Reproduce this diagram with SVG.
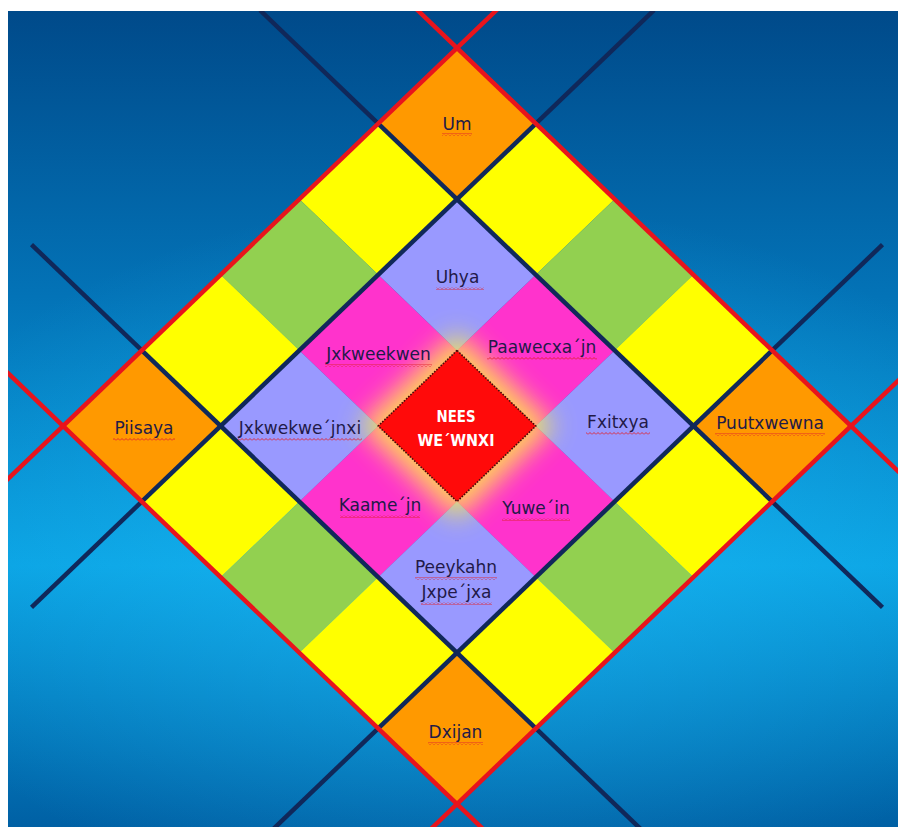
<svg xmlns="http://www.w3.org/2000/svg" width="898" height="827" viewBox="0 0 898 827">
<style>
.or{fill:#ff9900}.ye{fill:#ffff00}.gr{fill:#92d050}.la{fill:#9999ff}.ma{fill:#ff33cc}
.lbl{font-family:"DejaVu Sans","Verdana",sans-serif;font-size:17px;fill:#221a48;text-anchor:middle}
.ctr{font-family:"DejaVu Sans",sans-serif;font-size:16.5px;font-weight:bold;fill:#ffffff;text-anchor:middle}
.navy{stroke:#10285a;stroke-width:4.5;fill:none;stroke-linecap:butt}
.red{stroke:#e8141c;stroke-width:4.5;fill:none}
.sq{fill:url(#squig)}
</style>
<defs>
<linearGradient id="bg" x1="0" y1="11" x2="0" y2="827" gradientUnits="userSpaceOnUse">
<stop offset="0" stop-color="#004a8a"/>
<stop offset="0.35" stop-color="#0373b7"/>
<stop offset="0.68" stop-color="#0aa2e2"/>
<stop offset="1" stop-color="#0060a4"/>
</linearGradient>
<radialGradient id="bgr" cx="470" cy="560" r="600" gradientUnits="userSpaceOnUse" gradientTransform="translate(470 560) scale(1 0.6) translate(-470 -560)">
<stop offset="0" stop-color="#22c4ff" stop-opacity="0.5"/>
<stop offset="1" stop-color="#22c4ff" stop-opacity="0"/>
</radialGradient>
<pattern id="squig" width="4" height="3" patternUnits="userSpaceOnUse">
<polyline points="0,2.5 2,0.5 4,2.5" fill="none" stroke="#e0202c" stroke-width="0.9"/>
</pattern>
<filter id="blur" x="-50%" y="-50%" width="200%" height="200%">
<feGaussianBlur stdDeviation="13"/>
</filter>
<clipPath id="clip"><rect x="8" y="11" width="890" height="816"/></clipPath>
</defs>
<rect x="0" y="0" width="898" height="827" fill="#ffffff"/>
<rect x="8" y="11" width="890" height="816" fill="url(#bg)"/>
<rect x="8" y="11" width="890" height="816" fill="url(#bgr)"/>

<g id="cells-ring">
<polygon id="y1" class="ye" points="378.2,123.6 299.4,199.2 378.2,274.8 457,199.2"/>
<polygon id="g1" class="gr" points="299.4,199.2 220.6,274.8 299.4,350.4 378.2,274.8"/>
<polygon id="y2" class="ye" points="220.6,274.8 141.8,350.4 220.6,426 299.4,350.4"/>
<polygon id="y3" class="ye" points="535.8,123.6 457,199.2 535.8,274.8 614.6,199.2"/>
<polygon id="g2" class="gr" points="614.6,199.2 535.8,274.8 614.6,350.4 693.4,274.8"/>
<polygon id="y4" class="ye" points="693.4,274.8 614.6,350.4 693.4,426 772.2,350.4"/>
<polygon id="y5" class="ye" points="220.6,426 141.8,501.6 220.6,577.2 299.4,501.6"/>
<polygon id="g3" class="gr" points="299.4,501.6 220.6,577.2 299.4,652.8 378.2,577.2"/>
<polygon id="y6" class="ye" points="378.2,577.2 299.4,652.8 378.2,728.4 457,652.8"/>
<polygon id="y7" class="ye" points="693.4,426 614.6,501.6 693.4,577.2 772.2,501.6"/>
<polygon id="g4" class="gr" points="614.6,501.6 535.8,577.2 614.6,652.8 693.4,577.2"/>
<polygon id="y8" class="ye" points="535.8,577.2 457,652.8 535.8,728.4 614.6,652.8"/>
</g>

<g id="um"><polygon class="or" points="457,48 378.2,123.6 457,199.2 535.8,123.6"/></g>
<g id="piisaya"><polygon class="or" points="141.8,350.4 63,426 141.8,501.6 220.6,426"/></g>
<g id="puutxwewna"><polygon class="or" points="772.2,350.4 693.4,426 772.2,501.6 851,426"/></g>
<g id="dxijan"><polygon class="or" points="457,652.8 378.2,728.4 457,804 535.8,728.4"/></g>

<g id="uhya"><polygon class="la" points="457,199.2 378.2,274.8 457,350.4 535.8,274.8"/></g>
<g id="jxkwekwejnxi"><polygon class="la" points="299.4,350.4 220.6,426 299.4,501.6 378.2,426"/></g>
<g id="fxitxya"><polygon class="la" points="614.6,350.4 535.8,426 614.6,501.6 693.4,426"/></g>
<g id="peeykahn"><polygon class="la" points="457,501.6 378.2,577.2 457,652.8 535.8,577.2"/></g>
<g id="jxkweekwen"><polygon class="ma" points="378.2,274.8 299.4,350.4 378.2,426 457,350.4"/></g>
<g id="paawecxajn"><polygon class="ma" points="535.8,274.8 457,350.4 535.8,426 614.6,350.4"/></g>
<g id="kaamejn"><polygon class="ma" points="378.2,426 299.4,501.6 378.2,577.2 457,501.6"/></g>
<g id="yuwein"><polygon class="ma" points="535.8,426 457,501.6 535.8,577.2 614.6,501.6"/></g>

<g id="glow"><polygon points="457,332 555,426 457,520 359,426" fill="#ffee44" opacity="0.85" filter="url(#blur)"/></g>

<g id="center">
<polygon points="457,350.4 378.2,426 457,501.6 535.8,426" fill="#ff0a0a" stroke="#4a0a0a" stroke-width="1.6" stroke-dasharray="1.6 1.4"/>
<text class="ctr" x="456" y="422" textLength="39" lengthAdjust="spacingAndGlyphs">NEES</text>
<text class="ctr" x="456" y="446" textLength="77" lengthAdjust="spacingAndGlyphs">WE´WNXI</text>
</g>

<g id="connectors" clip-path="url(#clip)">
<line class="navy" x1="260" y1="10.2" x2="882.5" y2="607.4"/>
<line class="navy" x1="31.5" y1="244.6" x2="654" y2="841.8"/>
<line class="navy" x1="654" y1="10.2" x2="31.5" y2="607.4"/>
<line class="navy" x1="882.5" y1="244.6" x2="260" y2="841.8"/>
<line class="red" x1="504.3" y1="2.6" x2="3.9" y2="482.7"/>
<line class="red" x1="409.7" y1="2.6" x2="910.1" y2="482.7"/>
<line class="red" x1="3.9" y1="369.3" x2="504.3" y2="849.4"/>
<line class="red" x1="910.1" y1="369.3" x2="409.7" y2="849.4"/>
</g>

<g id="labels">
<text class="lbl" x="457" y="130">Um</text><rect class="sq" x="442" y="133" width="30" height="3"/>
<text class="lbl" x="457.5" y="283">Uhya</text><rect class="sq" x="436" y="287" width="48" height="3"/>
<text class="lbl" x="378.5" y="360">Jxkweekwen</text><rect class="sq" x="325" y="364" width="107" height="3"/>
<text class="lbl" x="542" y="353">Paawecxa´jn</text><rect class="sq" x="487" y="357" width="110" height="3"/>
<text class="lbl" x="144" y="434">Piisaya</text><rect class="sq" x="113" y="438" width="62" height="3"/>
<text class="lbl" x="300" y="434">Jxkwekwe´jnxi</text><rect class="sq" x="238" y="438" width="124" height="3"/>
<text class="lbl" x="618" y="428">Fxitxya</text><rect class="sq" x="586" y="432" width="64" height="3"/>
<text class="lbl" x="770" y="429">Puutxwewna</text><rect class="sq" x="715" y="433" width="110" height="3"/>
<text class="lbl" x="380" y="511">Kaame´jn</text><rect class="sq" x="340" y="515" width="80" height="3"/>
<text class="lbl" x="536" y="514">Yuwe´in</text><rect class="sq" x="502" y="518" width="68" height="3"/>
<text class="lbl" x="456" y="573">Peeykahn</text><rect class="sq" x="415" y="577" width="82" height="3"/>
<text class="lbl" x="456.5" y="598">Jxpe´jxa</text><rect class="sq" x="421" y="602" width="71" height="3"/>
<text class="lbl" x="455.5" y="738">Dxijan</text><rect class="sq" x="428" y="742" width="55" height="3"/>
</g>
</svg>
